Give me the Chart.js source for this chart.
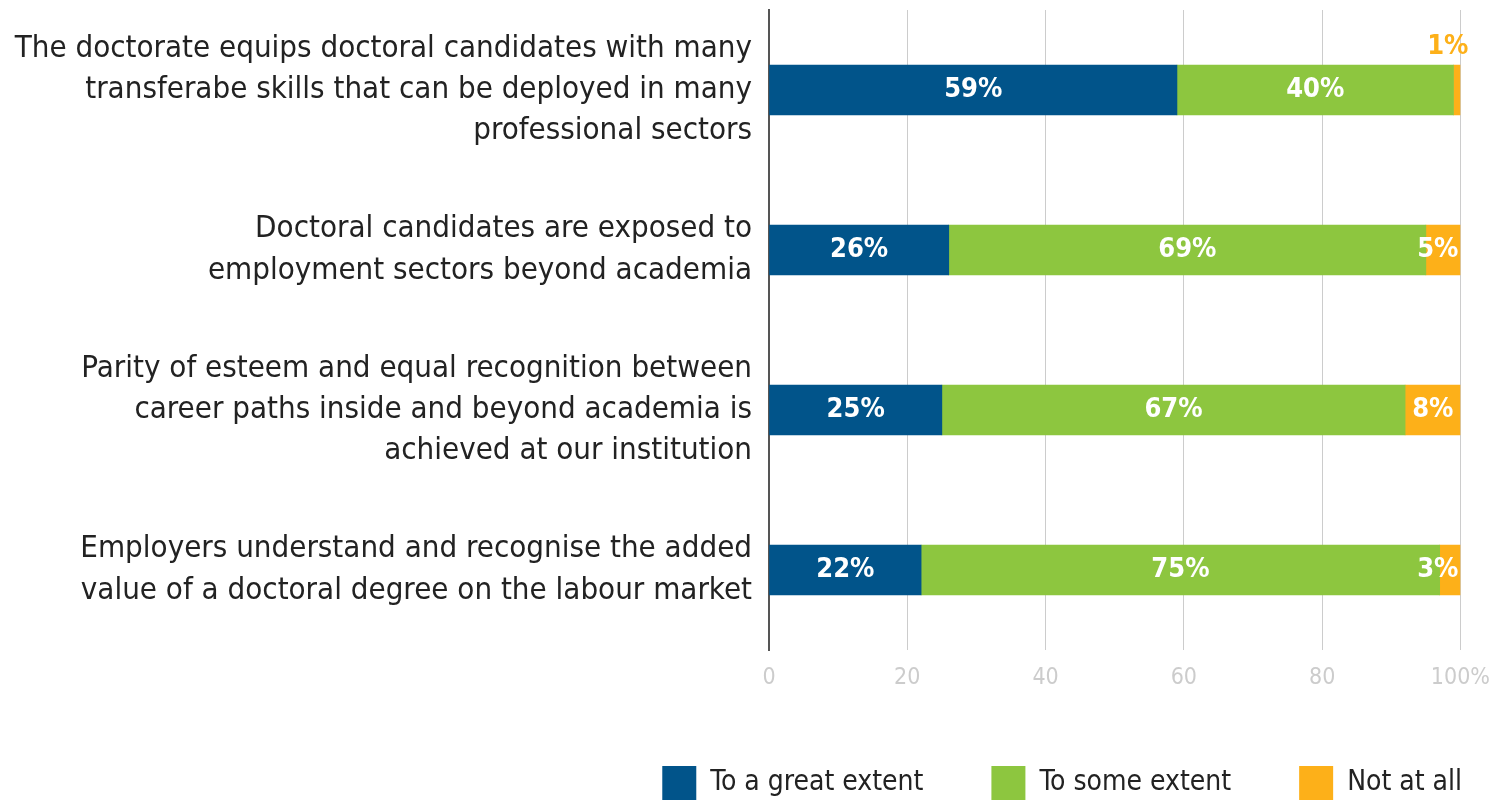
<!DOCTYPE html>
<html>
<head>
<meta charset="utf-8">
<script src="https://cdn.jsdelivr.net/npm/chart.js@4"></script>
<style>
  html, body { margin: 0; padding: 0; background: #fff; }
  #wrap { width: 1504px; height: 800px; }
</style>
</head>
<body>
<div id="wrap"><canvas id="plot" width="1504" height="800"></canvas></div>
<script>
var categories = [
    ['The doctorate equips doctoral candidates with many', 'transferabe skills that can be deployed in many', 'professional sectors'],
    ['Doctoral candidates are exposed to', 'employment sectors beyond academia'],
    ['Parity of esteem and equal recognition between', 'career paths inside and beyond academia is', 'achieved at our institution'],
    ['Employers understand and recognise the added', 'value of a doctoral degree on the labour market']
];
var seriesNames = ['To a great extent', 'To some extent', 'Not at all'];
var greatExtent = [59, 26, 25, 22];
var someExtent = [40, 69, 67, 75];
var notAtAll = [1, 5, 8, 3];
var xTicks = [0, 20, 40, 60, 80, 100];

var FONT = '"Liberation Sans Narrow", "DejaVu Sans Condensed", sans-serif';
var LEGEND_GAP = 68;

// draws the percentage labels on the segments
var valueLabels = {
    id: 'valueLabels',
    afterDatasetsDraw: function (chart) {
        var ctx = chart.ctx;
        ctx.save();
        ctx.font = 'bold 27px ' + FONT;
        ctx.textBaseline = 'middle';
        ctx.textAlign = 'center';
        chart.data.datasets.forEach(function (ds, di) {
            var meta = chart.getDatasetMeta(di);
            meta.data.forEach(function (bar, i) {
                var v = ds.data[i];
                var txt = v + '%';
                var w = ctx.measureText(txt).width;
                var left = Math.min(bar.x, bar.base), right = Math.max(bar.x, bar.base);
                var cx = (left + right) / 2;
                if (v < 2) {
                    ctx.fillStyle = ds.backgroundColor;
                    ctx.fillText(txt, Math.min(cx, right + 8 - w / 2), bar.y - bar.height / 2 - 18);
                } else {
                    ctx.fillStyle = '#ffffff';
                    ctx.fillText(txt, Math.min(cx, right - w / 2 - 2), bar.y);
                }
            });
        });
        ctx.restore();
    }
};

// legend ends flush with the plot area instead of one gap short of it
var legendShift = {
    id: 'legendShift',
    afterLayout: function (chart) {
        chart.legend.right += LEGEND_GAP;
    }
};

var ctx = document.getElementById('plot').getContext('2d');
var chart = new Chart(ctx, {
    type: 'bar',
    data: {
        labels: categories,
        datasets: [{
            label: seriesNames[0],
            data: greatExtent,
            backgroundColor: '#01548a'
        }, {
            label: seriesNames[1],
            data: someExtent,
            backgroundColor: '#8dc63f'
        }, {
            label: seriesNames[2],
            data: notAtAll,
            backgroundColor: '#fdb019'
        }]
    },
    options: {
        indexAxis: 'y',
        responsive: false,
        animation: false,
        barThickness: 50,
        layout: { padding: { top: 10, right: 42, left: 0, bottom: -10 } },
        plugins: {
            legend: {
                position: 'bottom',
                align: 'end',
                labels: {
                    color: '#222',
                    font: { family: FONT, size: 28 },
                    boxWidth: 34,
                    boxHeight: 34,
                    padding: LEGEND_GAP
                }
            },
            tooltip: { enabled: false }
        },
        scales: {
            x: {
                stacked: true,
                min: 0,
                max: 100,
                afterBuildTicks: function (s) {
                    s.ticks = xTicks.map(function (v) { return { value: v }; });
                },
                afterFit: function (s) { s.height = 48; },
                grid: { color: '#cccccc', lineWidth: 1, drawTicks: false },
                border: { display: false },
                ticks: {
                    color: '#cccccc',
                    padding: 14,
                    font: { family: FONT, size: 23 },
                    callback: function (v) { return v === 100 ? '100%' : v; }
                }
            },
            y: {
                stacked: true,
                afterFit: function (s) {
                    s.width = 769;
                    s.paddingTop = 0;
                    s.paddingBottom = 0;
                },
                grid: { display: false, drawTicks: false },
                border: { display: true, color: '#555555', width: 2 },
                ticks: {
                    color: '#222222',
                    padding: 17,
                    font: { family: FONT, size: 31, lineHeight: 1.33 }
                }
            }
        }
    },
    plugins: [valueLabels, legendShift]
});
</script>
</body>
</html>
